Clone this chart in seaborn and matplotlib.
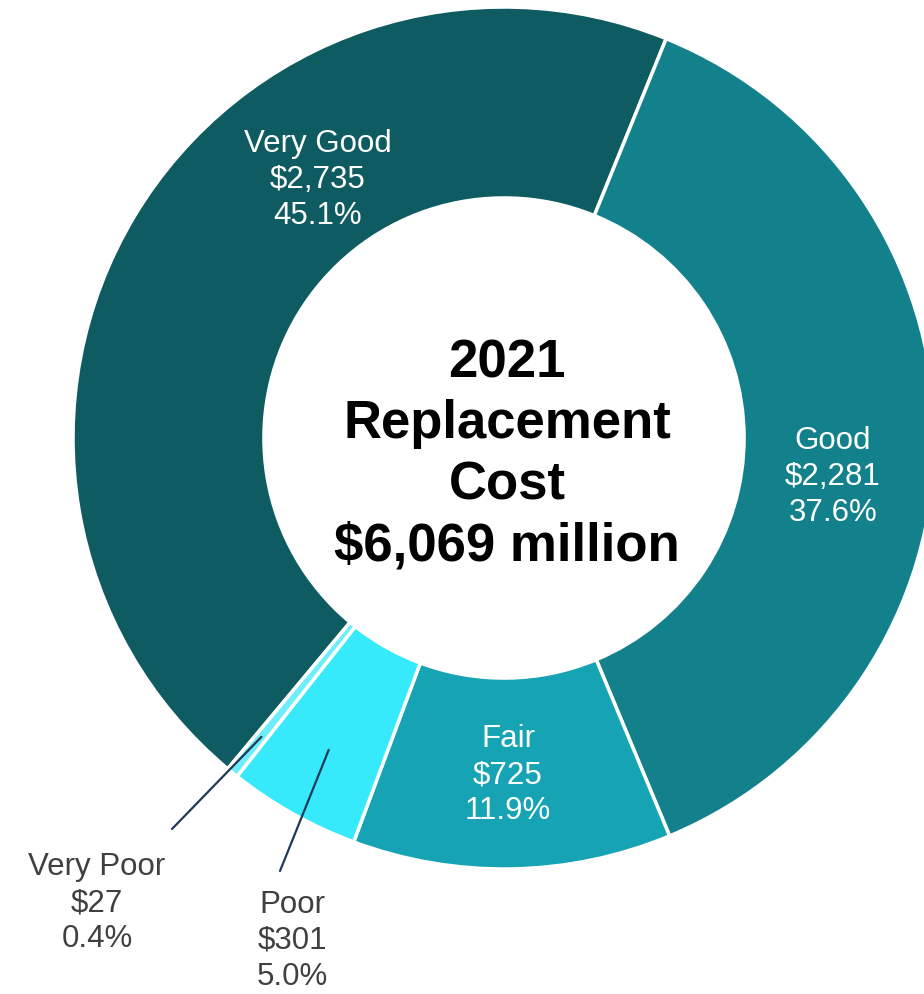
import numpy as np
import matplotlib
matplotlib.use("Agg")
import matplotlib.pyplot as plt
import seaborn as sns

categories = ["Very Good", "Good", "Fair", "Poor", "Very Poor"]
values = [2735, 2281, 725, 301, 27]
value_labels = ["$2,735", "$2,281", "$725", "$301", "$27"]
pct_labels = ["45.1%", "37.6%", "11.9%", "5.0%", "0.4%"]
colors = ["#0E5B61", "#13818B", "#16A4B4", "#36EAFB", "#6DEEFA"]
center_title = "2021\nReplacement\nCost\n$6,069 million"

sns.set_theme(style="white")
plt.rcParams["font.family"] = ["Liberation Sans", "DejaVu Sans"]

W, H = 924, 995
fig = plt.figure(figsize=(W / 100, H / 100), dpi=100)
ax = fig.add_axes([0, 0, 1, 1])

cx, cy, R = 504, 439, 431  # pixel layout of the donut


def px(x, y):
    return ((x - cx) / R, (cy - y) / R)


total = sum(values)
start = 67.9 + 360 * values[0] / total
wedges, _ = ax.pie(values, colors=colors, startangle=start, counterclock=False,
                   radius=1.0,
                   wedgeprops=dict(width=0.443, edgecolor="white", linewidth=2.5))

ax.set_xlim(-cx / R, (W - cx) / R)
ax.set_ylim(-(H - cy) / R, cy / R)
ax.set_aspect("auto")
ax.axis("off")

fs = 22.5
ls = 1.25
# inside labels
inside_pos = {"Very Good": (318, 180), "Good": (833, 477), "Fair": (508, 775)}
for i, c in enumerate(categories):
    txt = f"{c}\n{value_labels[i]}\n{pct_labels[i]}"
    if c in inside_pos:
        x, y = px(*inside_pos[c])
        ax.text(x, y, txt, ha="center", va="center", color="white",
                fontsize=fs, linespacing=ls)

# outside labels with leader lines
outside = {"Poor": ((292, 941), 0.83, (280, 872)),
           "Very Poor": ((97, 903), 0.893, (172, 830))}
for i, c in enumerate(categories):
    if c not in outside:
        continue
    (lx, ly), r_in, (sx, sy) = outside[c]
    w = wedges[i]
    mid = np.deg2rad((w.theta1 + w.theta2) / 2)
    tip = (r_in * np.cos(mid), r_in * np.sin(mid))
    ax.annotate("", xy=tip, xytext=px(sx, sy),
                arrowprops=dict(arrowstyle="-", color="#1F3A5A", lw=1.6,
                                shrinkA=0, shrinkB=0))
    x, y = px(lx, ly)
    ax.text(x, y, f"{c}\n{value_labels[i]}\n{pct_labels[i]}", ha="center",
            va="center", color="#404040", fontsize=fs, linespacing=ls)

x, y = px(507, 455)
ax.text(x, y, center_title, ha="center", va="center", color="black",
        fontsize=38, fontweight="bold", linespacing=1.29)

fig.savefig("out.png", dpi=100, facecolor="white")
